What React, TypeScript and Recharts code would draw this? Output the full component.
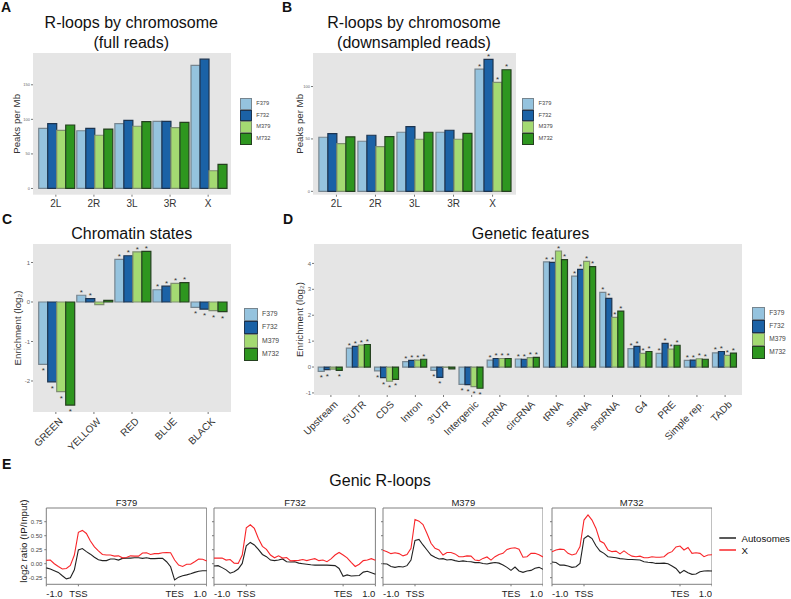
import {
  BarChart, Bar, LineChart, Line, XAxis, YAxis, CartesianGrid, ReferenceArea,
} from 'recharts';

const FONT = '"Liberation Sans", Arial, sans-serif';
const seriesNames = ['F379', 'F732', 'M379', 'M732'];
const seriesFill = ['#95c3de', '#1b62a6', '#a4da72', '#2e961f'];
const seriesStroke = ['#76858f', '#1c3450', '#7f8f70', '#24401f'];

// panel A
const chromosomes = ['2L', '2R', '3L', '3R', 'X'];
const fullF379 = [87, 83.5, 93.7, 97, 178];
const fullF732 = [93.7, 87, 98.5, 97, 187];
const fullM379 = [84, 77, 90, 88, 25.6];
const fullM732 = [91.8, 86, 96.6, 95.6, 35];

// panel B
const downF379 = [51.6, 47.8, 56.4, 56.4, 116.6];
const downF732 = [55, 53.5, 61.8, 58.3, 126];
const downM379 = [45.5, 42.7, 49.7, 49.7, 104];
const downM732 = [52, 52.2, 56.4, 55.4, 116];

// panel C
const states = ['GREEN', 'YELLOW', 'RED', 'BLUE', 'BLACK'];
const stateF379 = [-1.58, 0.17, 1.08, 0.31, -0.135];
const stateF732 = [-2.02, 0.085, 1.17, 0.4, -0.18];
const stateM379 = [-2.27, -0.065, 1.27, 0.47, -0.22];
const stateM732 = [-2.61, 0.04, 1.28, 0.49, -0.245];
const stateNoStar = ['YELLOW:M379', 'YELLOW:M732'];

// panel D
const features = ['Upstream', "5'UTR", 'CDS', 'Intron', "3'UTR", 'Intergenic', 'ncRNA', 'circRNA', 'tRNA', 'snRNA', 'snoRNA', 'G4', 'PRE', 'Simple rep.', 'TADb'];
const featF379 = [-0.17, 0.73, -0.15, 0.21, -0.13, -0.67, 0.27, 0.31, 4.06, 3.51, 2.88, 0.71, 0.53, 0.26, 0.55];
const featF732 = [-0.1, 0.8, -0.41, 0.26, -0.4, -0.68, 0.33, 0.3, 4.04, 3.77, 2.65, 0.8, 0.91, 0.27, 0.6];
const featM379 = [-0.08, 0.85, -0.55, 0.27, -0.01, -0.76, 0.33, 0.36, 4.48, 4.08, 1.92, 0.53, 0.69, 0.32, 0.45];
const featM732 = [-0.13, 0.87, -0.48, 0.3, -0.07, -0.82, 0.33, 0.37, 4.15, 3.88, 2.16, 0.6, 0.84, 0.3, 0.54];
const featNoStar = ['Upstream:M379', "3'UTR:M379", "3'UTR:M732"];

// panel E, metagene position 0-100 (TSS at 20, TES at 80)
const genePos = [0, 2.5, 5, 7.5, 10, 12.5, 15, 17.5, 20, 22.5, 25, 27.5, 30, 32.5, 35, 37.5, 40, 42.5, 45, 47.5, 50, 52.5, 55, 57.5, 60, 62.5, 65, 67.5, 70, 72.5, 75, 77.5, 80, 82.5, 85, 87.5, 90, 92.5, 95, 97.5, 100];
const geneTicks = [0, 20, 80, 100];
const geneTickLabels = ['-1.0', 'TSS', 'TES', '1.0'];
const f379Auto = [-0.075, -0.095, -0.125, -0.155, -0.215, -0.27, -0.25, -0.11, 0.245, 0.27, 0.215, 0.17, 0.115, 0.07, 0.055, 0.055, 0.085, 0.085, 0.065, 0.095, 0.1, 0.1, 0.105, 0.105, 0.095, 0.105, 0.09, 0.09, 0.095, 0.095, 0.035, -0.055, -0.29, -0.24, -0.215, -0.2, -0.18, -0.155, -0.135, -0.125, -0.125];
const f379X = [0.06, 0.065, 0, -0.05, -0.095, -0.085, -0.03, 0.155, 0.56, 0.595, 0.54, 0.405, 0.3, 0.23, 0.165, 0.155, 0.155, 0.135, 0.14, 0.105, 0.11, 0.14, 0.135, 0.135, 0.19, 0.195, 0.165, 0.18, 0.18, 0.195, 0.2, 0.195, 0.065, -0.025, -0.05, -0.01, -0.01, 0.035, 0.085, 0.08, 0.05];
const f732Auto = [-0.04, -0.035, -0.07, -0.11, -0.17, -0.145, -0.095, 0.005, 0.32, 0.38, 0.335, 0.255, 0.165, 0.125, 0.065, 0.055, 0.065, 0.085, 0.035, 0.03, 0.035, 0.01, 0, -0.01, -0.02, -0.025, -0.025, -0.025, -0.025, -0.03, -0.035, -0.085, -0.225, -0.2, -0.22, -0.215, -0.21, -0.15, -0.135, -0.16, -0.19];
const f732X = [0.1, 0.1, 0.1, 0.065, 0.075, 0.01, 0.005, 0.155, 0.64, 0.695, 0.63, 0.45, 0.31, 0.255, 0.155, 0.105, 0.14, 0.1, 0.11, 0.05, 0.055, 0.06, 0.075, 0.055, 0.075, 0.09, 0.055, 0.065, 0.035, 0.085, 0.155, 0.2, 0.155, 0.105, 0.025, -0.05, -0.01, 0.055, 0.065, 0.09, 0.06];
const m379Auto = [0, -0.005, -0.05, -0.065, -0.05, -0.06, -0.035, 0.065, 0.415, 0.435, 0.335, 0.245, 0.155, 0.115, 0.085, 0.09, 0.065, 0.075, 0.055, 0.04, 0.05, 0.04, 0.035, 0.02, 0.02, 0.005, -0.005, 0.01, 0.02, 0.01, -0.025, -0.065, -0.12, -0.06, -0.13, -0.155, -0.13, -0.12, -0.08, -0.065, -0.1];
const m379X = [0.24, 0.215, 0.18, 0.195, 0.18, 0.14, 0.165, 0.275, 0.79, 0.76, 0.7, 0.54, 0.365, 0.275, 0.245, 0.155, 0.2, 0.2, 0.175, 0.125, 0.125, 0.14, 0.135, 0.065, 0.055, 0.095, 0.12, 0.065, 0.125, 0.165, 0.185, 0.255, 0.275, 0.285, 0.26, 0.115, 0.125, 0.185, 0.185, 0.16, 0.12];
const m732Auto = [0.03, 0.02, -0.025, -0.025, -0.04, -0.065, -0.055, 0.005, 0.45, 0.5, 0.45, 0.32, 0.225, 0.185, 0.125, 0.115, 0.105, 0.09, 0.085, 0.075, 0.075, 0.07, 0.065, 0.035, 0.025, 0.02, 0.005, 0.005, 0.01, 0, -0.04, -0.085, -0.17, -0.12, -0.16, -0.19, -0.185, -0.145, -0.13, -0.125, -0.13];
const m732X = [0.215, 0.245, 0.26, 0.255, 0.185, 0.155, 0.175, 0.305, 0.78, 0.87, 0.78, 0.63, 0.405, 0.365, 0.245, 0.215, 0.225, 0.175, 0.23, 0.175, 0.135, 0.125, 0.135, 0.105, 0.105, 0.125, 0.115, 0.115, 0.125, 0.185, 0.215, 0.3, 0.315, 0.245, 0.29, 0.185, 0.195, 0.185, 0.125, 0.155, 0.16];

function barRows(cats: string[], a: number[], b: number[], c: number[], d: number[]) {
  return cats.map((name, i) => ({ name, F379: a[i], F732: b[i], M379: c[i], M732: d[i] }));
}

function lineRows(auto: number[], x: number[]) {
  return genePos.map((pos, i) => ({ pos, auto: auto[i], x: x[i] }));
}

function starLabel(cats: string[], series: string, starred: (cat: string, s: string) => boolean) {
  return (p: any) => {
    if (!starred(cats[p.index], series)) return null;
    const top = Math.min(p.y, p.y + p.height);
    const bottom = Math.max(p.y, p.y + p.height);
    const y = p.value < 0 ? bottom + 9 : top - 0.3;
    return <text x={p.x + p.width / 2} y={y} fontSize={8} fill="#333" textAnchor="middle" fontFamily={FONT}>*</text>;
  };
}

function RotatedTick({ x, y, payload }: any) {
  const tx = x + 7.5;
  const ty = y + 5;
  return (
    <text transform={`rotate(-45 ${tx} ${ty})`} x={tx} y={ty} textAnchor="end" fontSize={10} fill="#333" fontFamily={FONT}>
      {payload.value}
    </text>
  );
}

function GeneTick({ x, y, index }: any) {
  const anchor = index === 0 ? 'start' : index === 3 ? 'end' : 'middle';
  return <text x={x} y={y + 9} textAnchor={anchor} fontSize={9.5} fill="#222" fontFamily={FONT}>{geneTickLabels[index]}</text>;
}

function BarPanel({ left, top, width, height, axisW, axisH, cats, rows, domain, ticks, yTitle, rotated, tickSize, starred }: any) {
  const unit = width / (cats.length + 0.2);
  return (
    <div style={{ position: 'absolute', left: left - axisW, top }}>
      <BarChart width={width + axisW} height={height + axisH} data={rows} margin={{ top: 0, right: 0, bottom: 0, left: 0 }} barCategoryGap="5%" barGap={0}>
        <CartesianGrid horizontal={false} vertical={false} fill="#e5e5e5" />
        <XAxis
          dataKey="name" interval={0} height={axisH} axisLine={false} tickSize={2} tickMargin={3}
          padding={{ left: unit * 0.1, right: unit * 0.1 }}
          tickLine={{ stroke: '#777' }}
          tick={rotated ? <RotatedTick /> : { fontSize: 10, fill: '#333', fontFamily: FONT }}
        />
        <YAxis
          width={axisW} domain={domain} ticks={ticks} allowDataOverflow axisLine={false} tickSize={2} tickMargin={1}
          tickLine={{ stroke: '#777' }}
          tick={{ fontSize: tickSize, fill: '#666', fontFamily: FONT }}
          label={{ value: yTitle, angle: -90, position: 'center', fontSize: 9.7, fill: '#333', fontFamily: FONT }}
        />
        {seriesNames.map((s, i) => (
          <Bar
            key={s} dataKey={s} fill={seriesFill[i]} stroke={seriesStroke[i]} strokeWidth={1.2}
            isAnimationActive={false}
            label={starLabel(cats, s, starred)}
          />
        ))}
      </BarChart>
    </div>
  );
}

function BarLegend({ left, top, size, fontSize }: any) {
  return (
    <div style={{ position: 'absolute', left, top }}>
      {seriesNames.map((s, i) => (
        <div key={s} style={{ display: 'flex', alignItems: 'center', height: size }}>
          <div style={{ width: size - 2, height: size - 2, background: seriesFill[i], border: `1px solid ${seriesStroke[i]}`, boxSizing: 'content-box' }} />
          <span style={{ marginLeft: 4.5, fontSize, color: '#444', fontFamily: FONT, lineHeight: 1 }}>{s}</span>
        </div>
      ))}
    </div>
  );
}

function Facet({ left, axisW, width, name, auto, x, showLabels }: any) {
  return (
    <>
      <div style={{ position: 'absolute', left: left + width / 2 - 40, width: 80, top: 496.5, textAlign: 'center', fontSize: 9.5, lineHeight: '11px', color: '#222', fontFamily: FONT }}>{name}</div>
      <div style={{ position: 'absolute', left: left - axisW, top: 488 }}>
        <LineChart width={width + axisW} height={112} data={lineRows(auto, x)} margin={{ top: 20, right: 0, bottom: 0, left: 0 }}>
          <XAxis
            dataKey="pos" type="number" domain={[0, 100]} ticks={geneTicks} interval={0} height={15.7}
            axisLine={false} tickSize={2} tickLine={{ stroke: '#777' }} tick={<GeneTick />}
          />
          <YAxis
            width={axisW} domain={[-0.368, 0.995]} ticks={[-0.25, 0, 0.25, 0.5, 0.75]} allowDataOverflow
            axisLine={false} tickSize={2} tickMargin={2} tickLine={{ stroke: '#777' }}
            tick={{ fontSize: 6, fill: '#444', fontFamily: FONT }}
            tickFormatter={(v: number) => (showLabels ? v.toFixed(2) : '')}
            label={showLabels ? { value: 'log2 ratio (IP/Input)', angle: -90, position: 'center', dy: -5, fontSize: 9.8, fill: '#222', fontFamily: FONT } : undefined}
          />
          <ReferenceArea x1={0} x2={100} y1={-0.368} y2={0.995} fill="none" stroke="#808080" strokeWidth={1} />
          <Line dataKey="auto" stroke="#222222" strokeWidth={1.1} dot={false} isAnimationActive={false} />
          <Line dataKey="x" stroke="#f8262a" strokeWidth={1.1} dot={false} isAnimationActive={false} />
        </LineChart>
      </div>
    </>
  );
}

function Txt({ x, y, size = 16, bold, anchor = 'middle', children }: any) {
  return <text x={x} y={y} fontSize={size} fontWeight={bold ? 700 : 400} textAnchor={anchor} fill="#111" fontFamily={FONT}>{children}</text>;
}

export default function App() {
  return (
    <div style={{ position: 'absolute', left: 0, top: 0, width: 791, height: 599, background: '#fff', overflow: 'hidden' }}>
      <svg width={791} height={599} style={{ position: 'absolute', left: 0, top: 0 }}>
        <Txt x={1} y={12} size={14} bold anchor="start">A</Txt>
        <Txt x={282} y={12} size={14} bold anchor="start">B</Txt>
        <Txt x={2} y={224} size={14} bold anchor="start">C</Txt>
        <Txt x={283} y={224} size={14} bold anchor="start">D</Txt>
        <Txt x={2} y={469} size={14} bold anchor="start">E</Txt>
        <Txt x={131.3} y={28}>R-loops by chromosome</Txt>
        <Txt x={131.3} y={47.7}>(full reads)</Txt>
        <Txt x={414} y={28}>R-loops by chromosome</Txt>
        <Txt x={414} y={47.7}>(downsampled reads)</Txt>
        <Txt x={131.7} y={239}>Chromatin states</Txt>
        <Txt x={530.5} y={239}>Genetic features</Txt>
        <Txt x={380} y={485.7}>Genic R-loops</Txt>
        <line x1={719.3} x2={736} y1={538} y2={538} stroke="#222222" strokeWidth={1.5} />
        <line x1={719.3} x2={736} y1={550} y2={550} stroke="#f8262a" strokeWidth={1.5} />
        <Txt x={741.5} y={541.5} size={9.7} anchor="start">Autosomes</Txt>
        <Txt x={741.5} y={553.5} size={9.7} anchor="start">X</Txt>
      </svg>

      <BarPanel
        left={33} top={53} width={198} height={141.7} axisW={33} axisH={20}
        cats={chromosomes} rows={barRows(chromosomes, fullF379, fullF732, fullM379, fullM732)}
        domain={[-9, 196]} ticks={[0, 50, 100, 150]} yTitle="Peaks per Mb" tickSize={4}
        starred={() => false}
      />
      <BarLegend left={240} top={98} size={11.7} fontSize={5.7} />

      <BarPanel
        left={313} top={53} width={203} height={141.7} axisW={26} axisH={20}
        cats={chromosomes} rows={barRows(chromosomes, downF379, downF732, downM379, downM732)}
        domain={[-3.2, 132]} ticks={[0, 50, 100]} yTitle="Peaks per Mb" tickSize={4}
        starred={(c: string) => c === 'X'}
      />
      <BarLegend left={522.3} top={98} size={11.7} fontSize={5.7} />

      <BarPanel
        left={33} top={244} width={198} height={168} axisW={30} axisH={52} rotated
        cats={states} rows={barRows(states, stateF379, stateF732, stateM379, stateM732)}
        domain={[-2.785, 1.468]} ticks={[-2, -1, 0, 1]} yTitle="Enrichment (log₂)" tickSize={6}
        starred={(c: string, s: string) => !stateNoStar.includes(`${c}:${s}`)}
      />
      <BarLegend left={244.3} top={307.7} size={13.3} fontSize={6.8} />

      <BarPanel
        left={314} top={244} width={428} height={151} axisW={28} axisH={60} rotated
        cats={features} rows={barRows(features, featF379, featF732, featM379, featM732)}
        domain={[-1.08, 4.75]} ticks={[-1, 0, 1, 2, 3, 4]} yTitle="Enrichment (log₂)" tickSize={6}
        starred={(c: string, s: string) => !featNoStar.includes(`${c}:${s}`)}
      />
      <BarLegend left={751.7} top={306.7} size={13.1} fontSize={6.6} />

      <Facet left={46.3} axisW={46.3} width={160.4} name="F379" auto={f379Auto} x={f379X} showLabels />
      <Facet left={214.3} axisW={4} width={161.4} name="F732" auto={f732Auto} x={f732X} />
      <Facet left={383.3} axisW={4} width={160} name="M379" auto={m379Auto} x={m379X} />
      <Facet left={551.7} axisW={4} width={160} name="M732" auto={m732Auto} x={m732X} />
    </div>
  );
}
